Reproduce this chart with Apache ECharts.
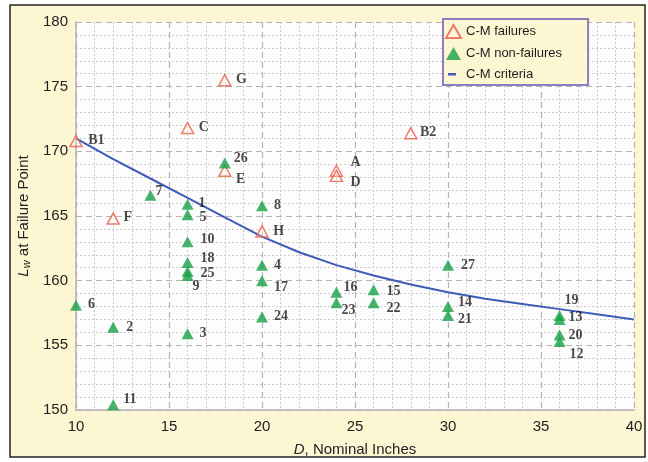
<!DOCTYPE html>
<html>
<head>
<meta charset="utf-8">
<script src="https://cdn.jsdelivr.net/npm/echarts@6/dist/echarts.min.js"></script>
<style>
  html, body { margin: 0; padding: 0; background: #fff; }
  #chart { width: 648px; height: 462px; }
</style>
</head>
<body>
<div id="chart"></div>
<script>
// C-M failures (open triangles)
const failNames = ['B1', 'G', 'C', 'E', 'F', 'H', 'A', 'D', 'B2'];
const failD = [10, 18, 16, 18, 12, 20, 24, 24, 28];
const failL = [170.8, 175.5, 171.8, 168.5, 164.8, 163.8, 168.5, 168.1, 171.4];

// C-M non-failures (filled triangles)
const nonNames = ['26', '7', '1', '5', '8', '10', '18', '25', '9', '4', '17', '24', '6', '2',
  '3', '11', '16', '23', '15', '22', '27', '14', '21', '19', '13', '20', '12'];
const nonD = [18, 14, 16, 16, 20, 16, 16, 16, 16, 20, 20, 20, 10, 12,
  16, 12, 24, 24, 26, 26, 30, 30, 30, 36, 36, 36, 36];
const nonL = [169.1, 166.6, 165.9, 165.1, 165.8, 163.0, 161.4, 160.7, 160.4, 161.2, 160.0, 157.2, 158.1, 156.4,
  155.9, 150.4, 159.1, 158.3, 159.3, 158.3, 161.2, 158.0, 157.3, 157.3, 157.0, 155.8, 155.3];

// C-M criteria curve
const critD = [10, 12, 14, 16, 18, 20, 22, 24, 26, 28, 30, 32, 34, 36, 38, 40];
const critL = [171.0, 169.4, 167.9, 166.4, 164.9, 163.4, 162.2, 161.2, 160.4, 159.7, 159.1, 158.6, 158.2, 157.8, 157.4, 157.0];

// axis ticks
const xTicks = [10, 15, 20, 25, 30, 35, 40];
const yTicks = [150, 155, 160, 165, 170, 175, 180];

// label nudges [dx, dy] from marker centre
const labelPos = {
  B1: [13, 0], G: [12, 0], C: [12, 0], E: [12, 9], F: [11, 0], H: [12, 1],
  A: [15, -8], D: [15, 7], B2: [10, 0],
  '26': [9, -5], '7': [5, -4], '1': [11, -1], '5': [12, 3], '8': [12, 0],
  '10': [13, -2], '18': [13, -4], '25': [13, 2], '9': [5, 11], '4': [12, 0],
  '17': [12, 7], '24': [12, 0], '6': [12, -1], '2': [13, 0], '3': [12, 0],
  '11': [10, -5], '16': [7, -5], '23': [5, 8], '15': [13, 2], '22': [13, 6],
  '27': [13, 0], '14': [10, -4], '21': [10, 4], '19': [5, -15], '13': [9, -2],
  '20': [9, 0], '12': [10, 13]
};

const SYM = [12, 11];
const sans = '"Liberation Sans", Arial, sans-serif';

function points(names, xs, ys) {
  return names.map((n, i) => {
    const p = labelPos[n] || [12, 0];
    return {
      name: n,
      value: [xs[i], ys[i]],
      label: { position: [SYM[0] / 2 + p[0], SYM[1] / 2 + p[1]] }
    };
  });
}

const ptLabel = {
  show: true,
  formatter: '{b}',
  align: 'left',
  verticalAlign: 'middle',
  color: '#1a1a1a',
  fontFamily: '"Liberation Serif", "DejaVu Serif", serif',
  fontWeight: 'bold',
  fontSize: 14
};

// short dash for the criteria legend entry; tiny corner specks keep the box 15x13
const dashIcon = 'path://M0,0 L0.01,0 L0,0.01 Z M2,5 L10,5 L10,7.5 L2,7.5 Z M15,13 L14.99,13 L15,12.99 Z';

const chart = echarts.init(document.getElementById('chart'));
chart.setOption({
  backgroundColor: '#ffffff',
  animation: false,
  graphic: [{
    type: 'rect',
    z: -10,
    shape: { x: 10, y: 5, width: 635, height: 452 },
    style: { fill: '#fdf6d3', stroke: '#222', lineWidth: 1.5 }
  }],
  legend: {
    left: 443,
    top: 19,
    orient: 'vertical',
    width: 145,
    padding: [5, 26, 4, 2],
    itemGap: 8,
    itemWidth: 15,
    itemHeight: 13,
    backgroundColor: '#fdf6d3',
    borderColor: '#8c7cc0',
    borderWidth: 2,
    textStyle: { fontFamily: sans, fontSize: 13, color: '#1e1e1e' },
    data: [
      { name: 'C-M failures' },
      { name: 'C-M non-failures' },
      { name: 'C-M criteria', icon: dashIcon }
    ]
  },
  grid: {
    left: 76, right: 14, top: 22, bottom: 52,
    show: true, backgroundColor: '#fdfdfd', borderWidth: 0
  },
  xAxis: {
    type: 'value',
    min: xTicks[0], max: xTicks[xTicks.length - 1], interval: 5,
    name: '{i|D}, Nominal Inches',
    nameLocation: 'middle',
    nameGap: 32,
    nameTextStyle: {
      fontFamily: sans, fontSize: 15, color: '#222',
      rich: { i: { fontFamily: sans, fontSize: 15, fontStyle: 'italic', color: '#222' } }
    },
    axisLine: { lineStyle: { color: '#b8b0b8', width: 1.5 } },
    axisTick: { show: false },
    axisLabel: { fontFamily: sans, fontSize: 15, color: '#222', margin: 9 },
    splitLine: { lineStyle: { color: '#b4b4b4', type: [6, 4], width: 1.2 } },
    minorTick: { show: false, splitNumber: 5 },
    minorSplitLine: { show: true, lineStyle: { color: '#cccccc', type: [2, 2], width: 1 } }
  },
  yAxis: {
    type: 'value',
    min: yTicks[0], max: yTicks[yTicks.length - 1], interval: 5,
    name: '{l|L}{w|w} at Failure Point',
    nameLocation: 'middle',
    nameGap: 44,
    nameRotate: 90,
    nameTextStyle: {
      fontFamily: sans, fontSize: 15, color: '#222',
      rich: {
        l: { fontFamily: sans, fontSize: 15, fontStyle: 'italic', color: '#222' },
        w: { fontFamily: sans, fontSize: 11, fontStyle: 'italic', color: '#222', verticalAlign: 'bottom', padding: [6, 0, 0, 0] }
      }
    },
    axisLine: { show: true, lineStyle: { color: '#b8b0b8', width: 1.5 } },
    axisTick: { show: false },
    axisLabel: { fontFamily: sans, fontSize: 15, color: '#222', margin: 8 },
    splitLine: { lineStyle: { color: '#b4b4b4', type: [6, 4], width: 1.2 } },
    minorTick: { show: false, splitNumber: 5 },
    minorSplitLine: { show: true, lineStyle: { color: '#cccccc', type: [2, 2], width: 1 } }
  },
  series: [
    {
      name: 'C-M criteria',
      type: 'line',
      data: critD.map((d, i) => [d, critL[i]]),
      symbol: 'none',
      showSymbol: false,
      lineStyle: { color: '#3c5cb8', width: 2 },
      itemStyle: { color: '#3c5cb8' },
      z: 2
    },
    {
      name: 'C-M failures',
      type: 'scatter',
      symbol: 'triangle',
      symbolSize: SYM,
      itemStyle: { color: 'rgba(255,255,255,0.3)', borderColor: '#ec5b45', borderWidth: 1.5 },
      label: ptLabel,
      data: points(failNames, failD, failL),
      z: 3
    },
    {
      name: 'C-M non-failures',
      type: 'scatter',
      symbol: 'triangle',
      symbolSize: SYM,
      itemStyle: { color: '#17a046' },
      label: ptLabel,
      data: points(nonNames, nonD, nonL),
      z: 4
    }
  ]
});
</script>
</body>
</html>
